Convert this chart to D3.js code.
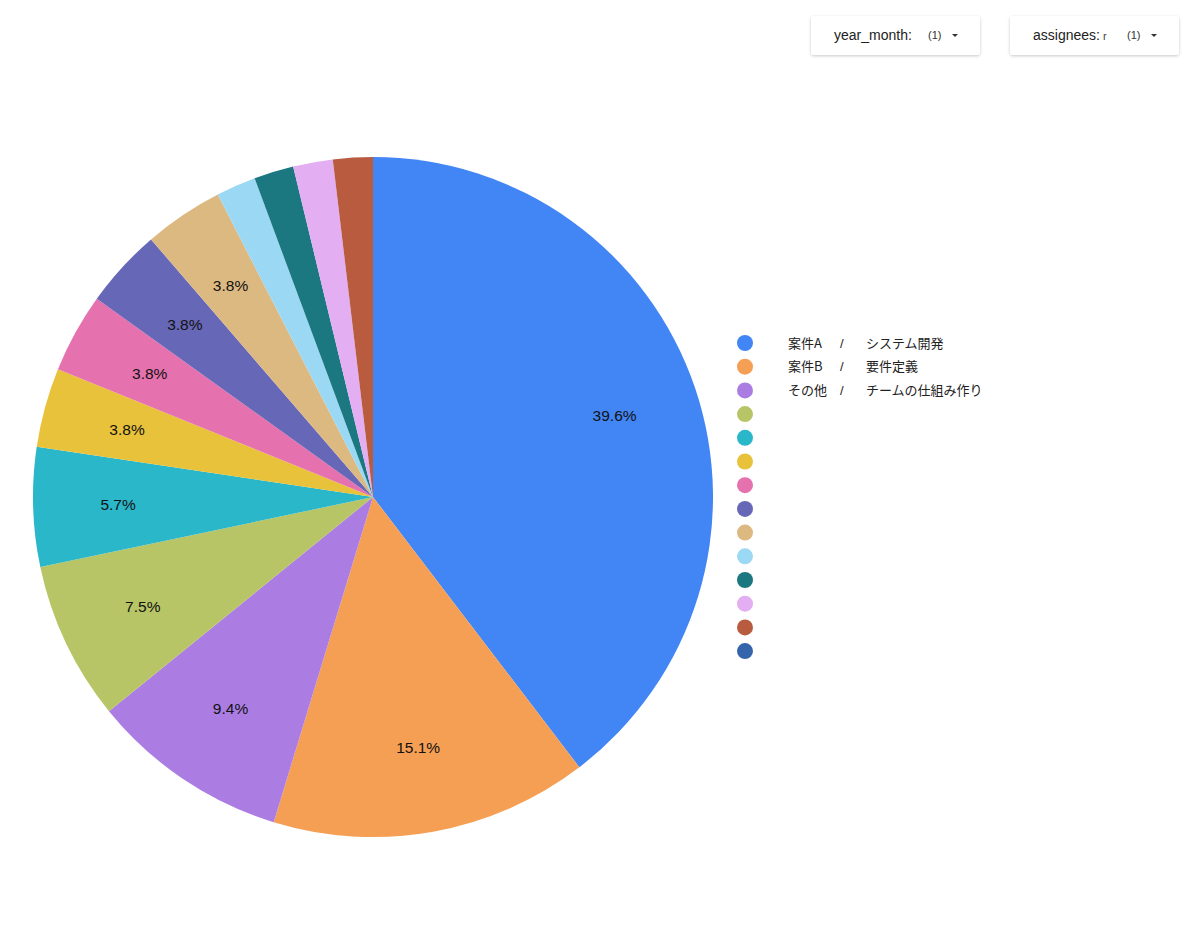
<!DOCTYPE html>
<html><head><meta charset="utf-8">
<script src="https://cdn.jsdelivr.net/npm/d3@7"></script>
<style>
html,body{margin:0;padding:0;background:#fff;}
svg{display:block;font-family:"Liberation Sans",Arial,"Noto Sans CJK JP",sans-serif;}
</style></head>
<body>
<svg id="c" width="1200" height="925"></svg>
<script>
const counts = [21, 8, 5, 4, 3, 2, 2, 2, 2, 1, 1, 1, 1, 0];
const projectNames = ["案件A", "案件B", "その他", "", "", "", "", "", "", "", "", "", "", ""];
const taskNames = ["システム開発", "要件定義", "チームの仕組み作り", "", "", "", "", "", "", "", "", "", "", ""];
const colors = ["#4285F4", "#F59F54", "#AB7DE3", "#B7C566", "#2AB7CA", "#E8C23A", "#E572AE", "#6767B7", "#DDB982", "#9AD8F4", "#1B7780", "#E3AEF2", "#B85B3F", "#3465AA"];
const filterLabels = ["year_month:", "assignees:"];
const filterValues = ["", "r"];
const filterCounts = ["(1)", "(1)"];

const svg = d3.select("#c");
const defs = svg.append("defs");
const f = defs.append("filter").attr("id","sh").attr("x","-20%").attr("y","-40%").attr("width","140%").attr("height","180%");
f.append("feDropShadow").attr("dx",0).attr("dy",1).attr("stdDeviation",1.5).attr("flood-color","#000").attr("flood-opacity",0.22);

// filter controls
const fx = d3.scaleOrdinal().domain(filterLabels).range([811, 1010]);
const fg = svg.selectAll("g.filt").data(filterLabels).join("g").attr("class","filt")
  .attr("transform", d => `translate(${fx(d)},16)`);
fg.append("rect").attr("width",169).attr("height",39).attr("rx",3).attr("fill","#fff").attr("filter","url(#sh)");
const ft = fg.append("text").attr("x",23).attr("y",24).attr("font-size",14).attr("fill","#222");
ft.append("tspan").text(d => d);
ft.append("tspan").attr("dx",3).attr("font-size",11).attr("fill","#444").text((d,i) => filterValues[i]);
fg.append("text").attr("x",117).attr("y",23).attr("font-size",11).attr("fill","#333").text((d,i) => filterCounts[i]);
fg.append("path").attr("d","M141,18 l6,0 l-3,3 z").attr("fill","#333");

// pie
const cx = 373, cy = 497, R = 340;
const total = d3.sum(counts);
const pie = d3.pie().sort(null).value(d => d)(counts);
const arc = d3.arc().innerRadius(0).outerRadius(R);
const labelArc = d3.arc().innerRadius(R*0.75).outerRadius(R*0.75);
const g = svg.append("g").attr("transform", `translate(${cx},${cy})`);
g.selectAll("path").data(pie).join("path")
  .attr("d", arc).attr("fill", (d,i) => colors[i]);
g.selectAll("text").data(pie.filter(d => d.data/total >= 0.03)).join("text")
  .attr("transform", d => `translate(${labelArc.centroid(d)})`)
  .attr("text-anchor","middle").attr("dy","0.35em")
  .attr("font-size",15.5).attr("fill","#111")
  .text(d => (d.data/total*100).toFixed(1) + "%");

// legend
const ly = d3.scaleBand().domain(d3.range(counts.length)).range([331, 331 + 23.7*counts.length]);
const lg = svg.selectAll("g.leg").data(counts).join("g").attr("class","leg")
  .attr("transform", (d,i) => `translate(0,${ly(i) + 12})`);
lg.append("circle").attr("cx",745).attr("cy",0).attr("r",8).attr("fill",(d,i) => colors[i]);
lg.append("text").attr("x",788).attr("dy","0.35em").attr("font-size",13).attr("fill","#222")
  .style("font-family","'Noto Sans CJK JP',sans-serif").text((d,i) => projectNames[i]);
lg.append("text").attr("x",840).attr("dy","0.35em").attr("font-size",13).attr("fill","#222")
  .text((d,i) => projectNames[i] ? "/" : "");
lg.append("text").attr("x",866).attr("dy","0.35em").attr("font-size",13).attr("fill","#222")
  .style("font-family","'Noto Sans CJK JP',sans-serif").text((d,i) => taskNames[i]);
</script>
</body></html>
